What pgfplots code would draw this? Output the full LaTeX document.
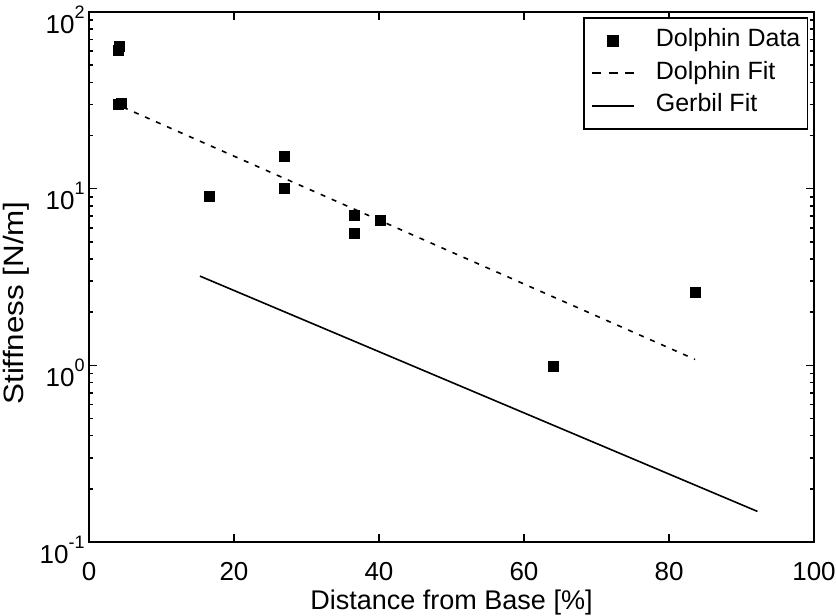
\documentclass[border=0pt]{standalone}
\usepackage{pgfplots}
\pgfplotsset{compat=1.18}
\usepackage{fontspec}
\setmainfont{Liberation Sans}

\newcommand{\tenpow}[1]{10\raisebox{7.5pt}{\fontsize{9}{9}\selectfont #1}}

\pgfplotsset{
  marklegend/.style={legend image code/.code={\path (0pt,0pt) (21pt,0pt);\draw[##1] plot coordinates {(10.5pt,0pt)};}},
  linelegend/.style={legend image code/.code={\draw[##1] (0pt,0pt) -- (21pt,0pt);}},
  dashlegend/.style={legend image code/.code={\draw[##1, dash pattern=on 4.5pt off 3.75pt] (0pt,0pt) -- (21pt,0pt);}},
}

\begin{document}
\begin{tikzpicture}
\useasboundingbox (-44.5pt,-37pt) rectangle (373.5pt,271pt);
\begin{axis}[
  scale only axis,
  width=362.5pt, height=265pt,
  ymode=log,
  xmin=0, xmax=100, ymin=0.1, ymax=100,
  xtick={0,20,40,60,80,100},
  xticklabels={0,20,40,60,80,100},
  ytick={0.1,1,10,100},
  yticklabels={\tenpow{-1},\tenpow{0},\tenpow{1},\tenpow{2}},
  tick align=inside,
  major tick length=4pt, minor tick length=2pt,
  axis line style={line width=1pt},
  every tick/.style={black, line width=0.8pt},
  tick label style={font=\fontsize{13}{15}\selectfont},
  xticklabel style={anchor=base, yshift=-19pt},
  yticklabel style={anchor=base east, inner sep=0pt, xshift=-2pt, yshift=-10.5pt},
  xlabel={Distance from Base [\%]},
  ylabel={Stiffness [N/m]},
  every axis x label/.style={at={(axis description cs:0.5,0)}, anchor=base,
    yshift=-33.5pt, font=\fontsize{13.5}{15}\selectfont},
  every axis y label/.style={at={(axis description cs:-0.1007,0.451)}, rotate=90,
    anchor=center, font=\fontsize{14}{16}\selectfont\addfontfeature{FakeStretch=1.12}},
  legend cell align=left,
  legend style={at={(rel axis cs:0.992,0.9906)}, anchor=north east,
    draw=black, line width=0.8pt,
    font=\fontsize{12.5}{14}\selectfont,
    nodes={inner sep=0pt, text height=9pt, text depth=3pt},
    inner xsep=3.5pt, inner ysep=5.5pt, row sep=4.25pt,
    /tikz/every odd column/.append style={column sep=10.5pt}},
]
% Dolphin data
\addplot[only marks, mark=square*, mark size=2.5pt, black, marklegend]
coordinates {
  (4.0,61) (4.2,64)
  (4.0,30) (4.4,30.5)
  (16.6,9.1)
  (26.9,15.2) (26.9,10.1)
  (36.6,7.1) (36.6,5.6)
  (40.2,6.65)
  (64.0,0.98)
  (83.7,2.58)
};
\addlegendentry{Dolphin Data}
% Dolphin fit
\addplot[black, line width=0.8pt, dash pattern=on 2.5pt off 3.5pt, dashlegend]
coordinates {(4.7,28.9) (83.6,1.08)};
\addlegendentry{Dolphin Fit}
% Gerbil fit
\addplot[black, line width=0.8pt, linelegend]
coordinates {(15.3,3.2) (92.2,0.149)};
\addlegendentry{Gerbil Fit}
\end{axis}
\end{tikzpicture}
\end{document}
